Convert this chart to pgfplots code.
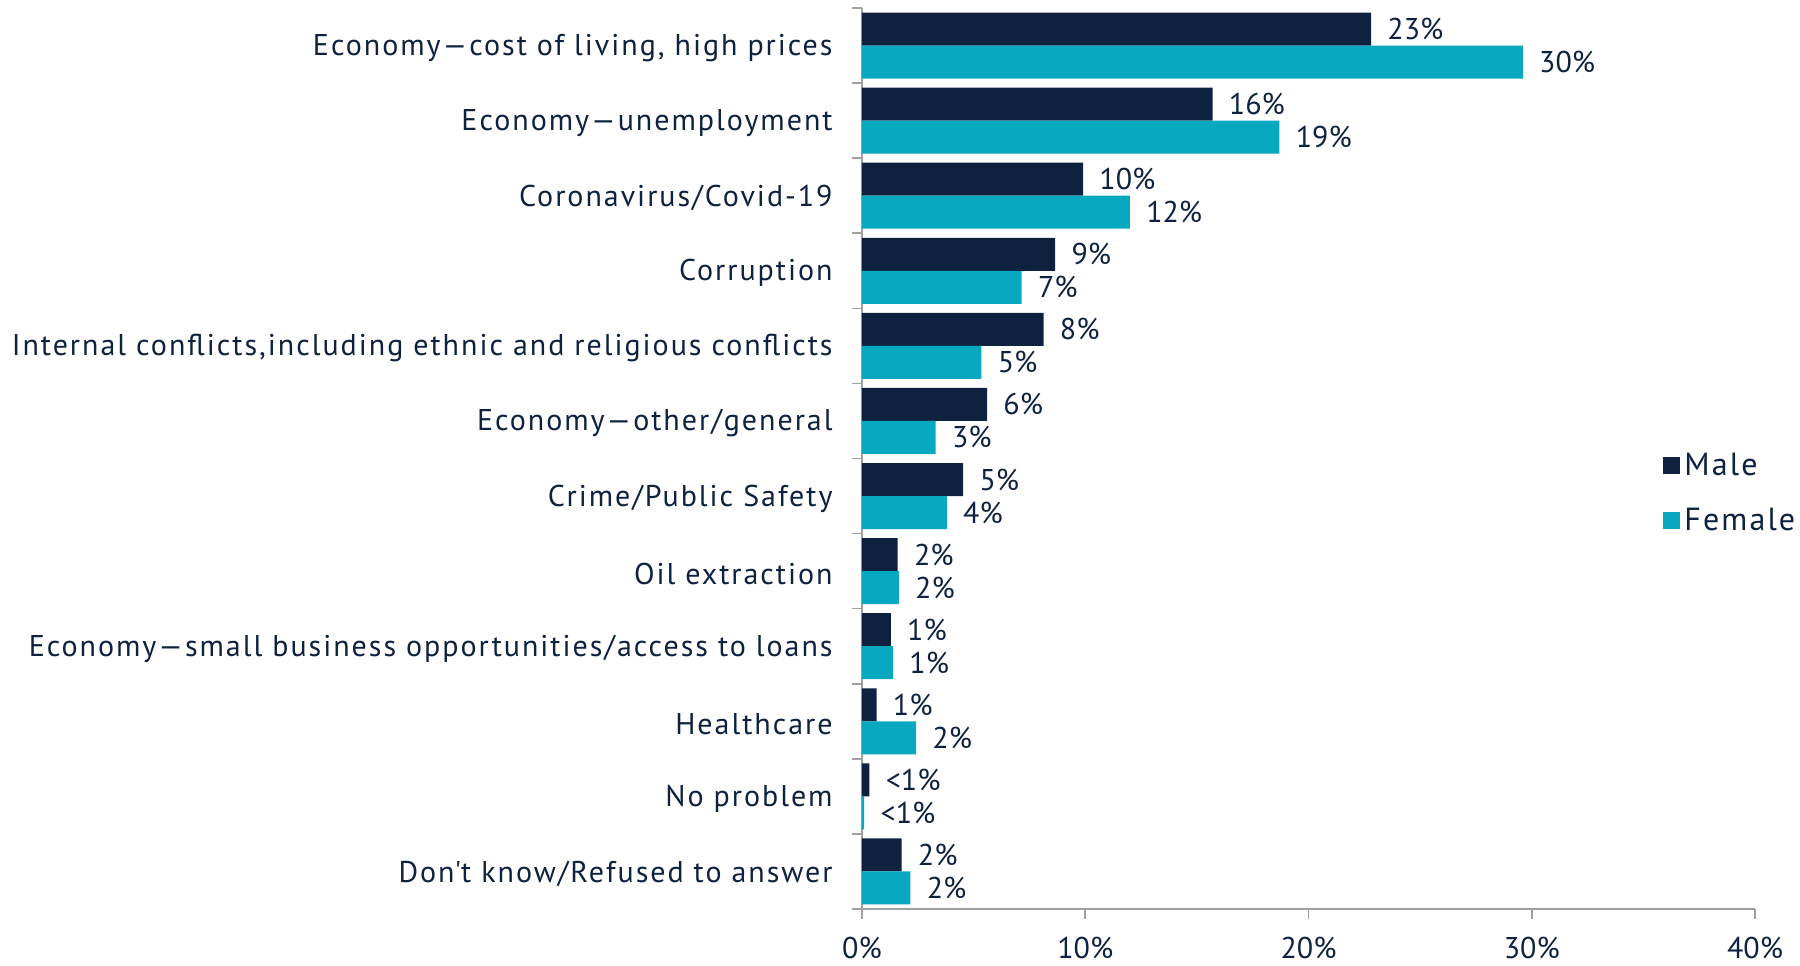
\documentclass[border=0pt]{standalone}
\usepackage{pgfplots}
\pgfplotsset{compat=1.18}
\usepackage{fontspec}
\setmainfont{PT Sans}
\newfontfamily\widefont[LetterSpace=6.6]{PT Sans}
\definecolor{male}{HTML}{0E2240}
\definecolor{female}{HTML}{07A8C0}
\definecolor{txt}{HTML}{0E2240}
\definecolor{axgray}{HTML}{A0A0A0}
\begin{document}
\begin{tikzpicture}
\useasboundingbox (0,0) rectangle (900pt,482.5pt);
\begin{axis}[
  at={(431pt,28pt)}, anchor=south west,
  scale only axis, width=446.5pt, height=450.5pt,
  xbar, bar width=16.5pt,
  xmin=0, xmax=40, ymin=-0.5, ymax=11.5,
  axis x line=bottom, axis y line=left,
  axis line style={axgray, line width=0.8pt, -},
  xtick={0,10,20,30,40},
  xticklabels={0\%,10\%,20\%,30\%,40\%},
  ytick={0,...,11},
  yticklabels={{Don\textquotesingle t know/Refused to answer},{No problem},{Healthcare},{Economy—small business opportunities/access to loans},{Oil extraction},{Crime/Public Safety},{Economy—other/general},{Internal conflicts,including ethnic and religious conflicts},{Corruption},{Coronavirus/Covid-19},{Economy—unemployment},{Economy—cost of living, high prices}},
  minor ytick={-0.5,0.5,...,11.5},
  tick align=outside,
  major tick length=5pt, minor tick length=5pt,
  major y tick style={draw=none},
  minor y tick style={axgray, line width=0.8pt},
  major x tick style={axgray, line width=0.8pt},
  tick label style={font=\fontsize{15}{18}\selectfont, text=txt},
  /pgf/number format/assume math mode=true,
  yticklabel style={inner sep=0pt, xshift=-9.5pt, yshift=-1.2pt, font=\widefont\fontsize{15}{18}\selectfont},
  xticklabel style={inner sep=0pt, yshift=-8.8pt},
  nodes near coords,
  point meta=explicit symbolic,
  every node near coord/.append style={font=\fontsize{15}{18}\selectfont, text=txt, inner sep=0pt, anchor=west, xshift=8pt},
  legend style={draw=none, fill=none, at={(0.897,0.4617)}, anchor=west, inner sep=0pt, row sep=11pt,
    font=\widefont\fontsize{16}{19}\selectfont, text=txt, legend cell align=left},
  legend image code/.code={\fill[#1,draw=none] (0pt,-4.25pt) rectangle (8.5pt,4.25pt);},
]
\addplot[fill=male, draw=none, bar shift=8.25pt] table[x=x, y=y, meta=lab] {
x y lab
22.8 11 23\%
15.7 10 16\%
9.9 9 10\%
8.65 8 9\%
8.13 7 8\%
5.6 6 6\%
4.53 5 5\%
1.6 4 2\%
1.29 3 1\%
0.65 2 1\%
0.33 1 <1\%
1.77 0 2\%
};
\addlegendentry{Male}
\addplot[fill=female, draw=none, bar shift=-8.25pt] table[x=x, y=y, meta=lab] {
x y lab
29.6 11 30\%
18.7 10 19\%
12.0 9 12\%
7.15 8 7\%
5.35 7 5\%
3.3 6 3\%
3.8 5 4\%
1.65 4 2\%
1.39 3 1\%
2.42 2 2\%
0.1 1 <1\%
2.17 0 2\%
};
\addlegendentry{Female}
\end{axis}
\end{tikzpicture}
\end{document}
